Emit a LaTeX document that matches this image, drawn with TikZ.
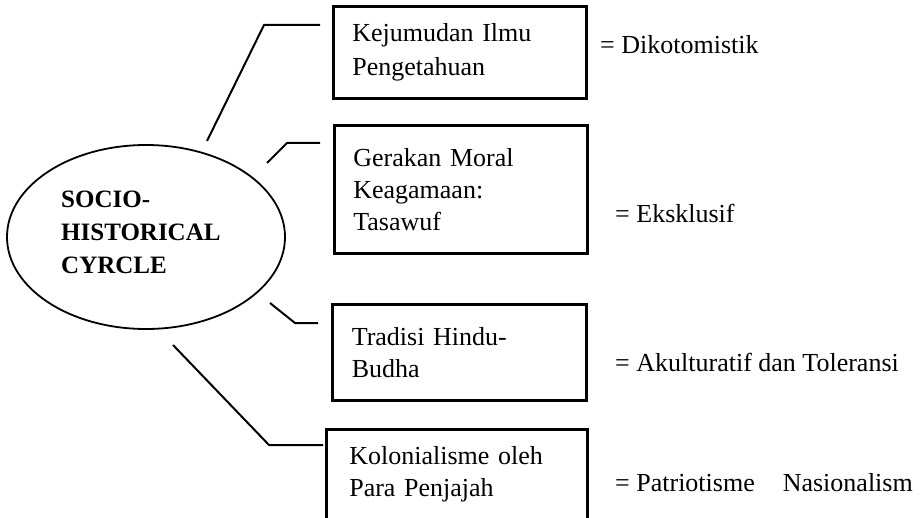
\documentclass[tikz,border=0pt]{standalone}
\usepackage{fontspec}
\setmainfont{Liberation Serif}
\usetikzlibrary{shapes.geometric}
\tikzset{
  itembox/.style={draw, line width=2.6pt, minimum width=253pt, text width=215pt, inner xsep=19pt, align=left, anchor=north west, font=\fontsize{26}{32}\selectfont},
  conn/.style={line width=2pt},
  lbl/.style={anchor=west, inner sep=0pt, font=\fontsize{26}{31}\selectfont},
}
\begin{document}
\begin{tikzpicture}[x=1pt,y=-1pt]
\useasboundingbox (0,0) rectangle (920,518);
\node[draw, ellipse, line width=1.8pt, minimum width=278pt, minimum height=184pt, inner sep=0pt] (e) at (146,237) {};
\node[anchor=west, inner sep=0pt, align=left, font=\fontsize{25}{33}\selectfont\bfseries] (et) at (61,232) {SOCIO-\\HISTORICAL\\CYRCLE};
\node[itembox, minimum height=92pt, font=\fontsize{26}{34}\selectfont] (b1) at (332,5) {Kejumudan Ilmu\\Pengetahuan};
\node[itembox, minimum height=128pt] (b2) at (333,124) {Gerakan Moral\\Keagamaan:\\Tasawuf};
\node[itembox, minimum height=96pt, minimum width=254pt] (b3) at (331,303) {Tradisi Hindu-\\Budha};
\node[itembox, minimum height=90pt, minimum width=260pt, inner xsep=23pt] (b4) at (325,428) {Kolonialisme oleh\\Para Penjajah};
\coordinate (s1) at (207,141); \coordinate (m1) at (264,25); \coordinate (t1) at (320,25);
\coordinate (s2) at (267,163); \coordinate (m2) at (287,143); \coordinate (t2) at (320,143);
\coordinate (s3) at (270,303); \coordinate (m3) at (295,323); \coordinate (t3) at (318,323);
\coordinate (s4) at (173,345); \coordinate (m4) at (269,445); \coordinate (t4) at (323,445);
\draw[conn] (s1) -- (m1) -- (t1);
\draw[conn] (s2) -- (m2) -- (t2);
\draw[conn] (s3) -- (m3) -- (t3);
\draw[conn] (s4) -- (m4) -- (t4);
\node[lbl] (l1) at (600,45) {= Dikotomistik};
\node[lbl] (l2) at (615,213) {= Eksklusif};
\node[lbl] (l3) at (615,362) {= Akulturatif dan Toleransi};
\node[lbl] (l4) at (615,483) {= Patriotisme\hspace{28pt}Nasionalism};
\end{tikzpicture}
\end{document}
